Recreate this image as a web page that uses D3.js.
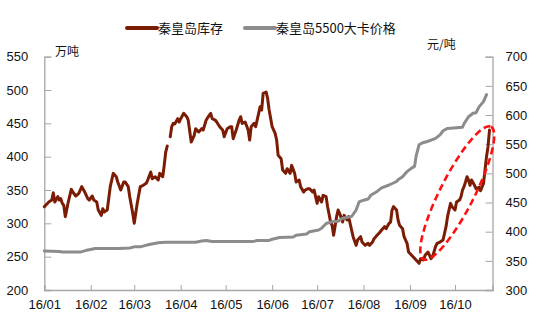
<!DOCTYPE html>
<html>
<head>
<meta charset="utf-8">
<script src="https://cdn.jsdelivr.net/npm/d3@7"></script>
<style>
  html, body { margin: 0; padding: 0; background: #fff; }
  svg { display: block; }
</style>
</head>
<body>
<svg id="chart" width="537" height="324"></svg>
<script>
// ---------------- DATA ----------------
const seriesNames = ["秦皇岛库存", "秦皇岛5500大卡价格"];
const leftUnit = "万吨";
const rightUnit = "元/吨";
const year = "2016";

const invDates = ["01-01","01-04","01-06","01-07","01-08","01-10","01-11","01-12","01-13","01-14","01-15","01-17","01-19","01-20","01-22","01-24","01-26","01-28","01-30","01-31",
"02-02","02-03","02-05","02-06","02-08","02-09","02-10","02-12","02-14","02-16","02-18","02-19","02-21","02-23","02-24","02-26","02-27","02-29",
"03-01","03-03","03-05","03-07","03-09","03-10","03-12","03-13","03-15","03-17","03-18","03-20","03-21","03-22","03-23","03-24","03-25","03-26","03-27","03-28","03-30","03-31",
"04-01","04-03","04-05","04-06","04-08","04-10","04-11","04-13","04-15","04-16","04-18","04-20","04-21","04-22","04-24","04-25","04-27","04-29","04-30",
"05-02","05-04","05-05","05-06","05-08","05-10","05-11","05-12","05-14","05-16","05-17","05-18","05-20","05-21","05-23","05-24","05-25","05-26","05-28","05-29","05-30",
"06-01","06-03","06-04","06-05","06-07","06-08","06-10","06-11","06-13","06-14","06-16","06-17","06-19","06-20","06-22","06-23","06-25","06-26","06-28","06-29",
"07-01","07-02","07-04","07-05","07-07","07-08","07-10","07-11","07-12","07-14","07-15","07-16","07-18","07-19","07-21","07-22","07-24","07-25","07-27","07-28","07-30","07-31",
"08-02","08-04","08-05","08-07","08-08","08-10","08-12","08-13","08-15","08-16","08-18","08-19","08-20","08-21","08-23","08-24","08-25","08-27","08-28","08-30","08-31",
"09-03","09-05","09-07","09-08","09-10","09-11","09-13","09-15","09-16","09-18","09-19","09-21","09-23","09-25","09-26","09-28","09-29",
"10-01","10-02","10-04","10-05","10-06","10-07","10-08","10-09","10-10","10-11","10-12","10-14","10-15","10-17","10-18","10-20","10-22","10-23","10-24"];
const invValues = [325,332,335,346,332,340,335,337,330,327,310,332,351,347,341,345,355,347,337,335,
341,335,332,320,312,322,317,320,355,375,370,362,350,362,362,355,340,315,
300,330,355,357,360,365,377,367,370,365,375,370,387,407,416,null,430,445,450,449,457,452,
457,465,460,455,422,432,442,437,442,440,455,462,465,457,455,452,445,440,430,
442,445,445,427,440,455,460,450,452,440,425,445,450,445,465,475,470,495,497,487,470,
445,435,425,402,397,380,375,382,375,387,375,362,365,355,347,350,352,352,347,350,
330,340,332,342,340,325,302,297,282,310,320,315,302,312,305,310,290,280,267,275,280,272,
267,270,267,272,277,282,287,290,295,292,300,302,320,325,320,305,297,292,280,270,257,
250,245,240,247,245,252,257,247,250,265,270,272,275,295,310,330,325,
320,332,335,340,350,355,362,370,365,357,365,357,352,354,349,360,400,415,440];

const priceDates = ["01-01","01-11","01-13","01-25","01-29","01-31","02-04","02-20","02-27","03-01","03-05","03-08","03-11","03-17","03-22",
"04-11","04-15","04-18","04-22","05-19","05-22","05-30","06-01","06-06","06-15","06-17","06-24","06-26",
"07-02","07-04","07-07","07-11","07-15","07-18","07-24","07-27","07-29","08-01","08-04","08-06","08-10","08-13","08-18","08-23","08-24","08-27","08-30",
"09-02","09-04","09-05","09-07","09-09","09-13","09-15","09-18","09-21","09-23","09-26","10-06","10-07","10-10","10-13","10-15","10-17","10-20","10-22"];
const priceValues = [367,366,365,365,368,369,371,371,372,374,374,376,378,381,382,
382,384,385,383,383,385,385,387,390,391,394,396,400,
403,406,414,417,418,423,426,437,451,454,456,463,469,475,480,486,489,494,503,
509,512,529,549,552,555,557,560,566,573,577,579,585,597,603,604,614,623,635];

const xDomain = ["01-01", "10-26"];
const xTickDates = ["01-01","02-01","03-01","04-01","05-01","06-01","07-01","08-01","09-01","10-01"];
const xTickLabels = ["16/01","16/02","16/03","16/04","16/05","16/06","16/07","16/08","16/09","16/10"];
const leftTicks = [200,250,300,350,400,450,500,550];
const rightTicks = [300,350,400,450,500,550,600,650,700];
// highlight ellipse: ends of its long axis, in data units (inventory axis)
const ellipseEnds = [["09-10", 246], ["10-25", 445]];

// ---------------- STYLE ----------------
const M = { left: 44.3, right: 492.5, top: 56.7, bottom: 290 };
const invColor = "#7b1c04";
const priceColor = "#8c8c8c";
const axisColor = "#a6a6a6";
const textColor = "#111";
const numFont = "'Liberation Sans', Arial, sans-serif";
const cjkFont = "'Noto Sans CJK SC', sans-serif";

const parse = d3.timeParse("%Y-%m-%d");
const toDate = s => parse(year + "-" + s);

const svg = d3.select("#chart");

const x = d3.scaleTime().domain(xDomain.map(toDate)).range([M.left, M.right]);
const yL = d3.scaleLinear().domain([200, 550]).range([M.bottom, M.top]);
const yR = d3.scaleLinear().domain([300, 700]).range([M.bottom, M.top]);

// ---------------- AXES ----------------
const gLeft = svg.append("g").attr("transform", `translate(${M.left},0)`)
  .call(d3.axisLeft(yL).tickValues(leftTicks).tickSize(-7).tickPadding(16).tickFormat(d3.format("d")));
const gRight = svg.append("g").attr("transform", `translate(${M.right},0)`)
  .call(d3.axisRight(yR).tickValues(rightTicks).tickSize(-7).tickPadding(13).tickFormat(d3.format("d")));
const gBottom = svg.append("g").attr("transform", `translate(0,${M.bottom})`)
  .call(d3.axisBottom(x).tickValues(xTickDates.map(toDate)).tickSize(-5).tickPadding(10)
    .tickFormat((d, i) => xTickLabels[i]));

[gLeft, gRight, gBottom].forEach(g => {
  g.select(".domain").attr("stroke", axisColor).attr("stroke-width", 1.3);
  g.selectAll(".tick line").attr("stroke", axisColor).attr("stroke-width", 1);
  g.selectAll(".tick text").attr("fill", textColor).style("font-family", numFont).style("font-size", "13px");
});
gLeft.selectAll(".tick text").attr("x", -16);
gBottom.selectAll(".tick text").attr("dy", "0.71em");

// ---------------- LINES ----------------
const invData = invDates.map((d, i) => ({ date: toDate(d), v: invValues[i] }));
const priceData = priceDates.map((d, i) => ({ date: toDate(d), v: priceValues[i] }));

svg.append("path").datum(invData)
  .attr("fill", "none").attr("stroke", invColor).attr("stroke-width", 3)
  .attr("stroke-linejoin", "round").attr("stroke-linecap", "round")
  .attr("d", d3.line().defined(d => d.v != null).x(d => x(d.date)).y(d => yL(d.v)));

svg.append("path").datum(priceData)
  .attr("fill", "none").attr("stroke", priceColor).attr("stroke-width", 3)
  .attr("stroke-linejoin", "round").attr("stroke-linecap", "round")
  .attr("d", d3.line().x(d => x(d.date)).y(d => yR(d.v)));

// ---------------- ELLIPSE ----------------
const p1 = [x(toDate(ellipseEnds[0][0])), yL(ellipseEnds[0][1])];
const p2 = [x(toDate(ellipseEnds[1][0])), yL(ellipseEnds[1][1])];
const cx = (p1[0] + p2[0]) / 2, cy = (p1[1] + p2[1]) / 2;
const rx = Math.hypot(p2[0] - p1[0], p2[1] - p1[1]) / 2;
const ang = Math.atan2(p2[1] - p1[1], p2[0] - p1[0]) * 180 / Math.PI;
svg.append("ellipse")
  .attr("cx", 0).attr("cy", 0).attr("rx", rx).attr("ry", 17)
  .attr("transform", `translate(${cx},${cy}) rotate(${ang})`)
  .attr("fill", "none").attr("stroke", "#ff1010").attr("stroke-width", 2.6)
  .attr("stroke-dasharray", "7,4");

// ---------------- UNITS ----------------
svg.append("text").attr("x", 55).attr("y", 56).text(leftUnit)
  .attr("fill", textColor).style("font-family", cjkFont).style("font-size", "12px");
svg.append("text").attr("x", 427).attr("y", 49).text(rightUnit)
  .attr("fill", textColor).style("font-family", cjkFont).style("font-size", "12px");

// ---------------- LEGEND ----------------
const legend = [
  { name: seriesNames[0], color: invColor, x0: 127 },
  { name: seriesNames[1], color: priceColor, x0: 245 }
];
const lg = svg.append("g");
legend.forEach(l => {
  lg.append("line").attr("x1", l.x0).attr("x2", l.x0 + 30).attr("y1", 28).attr("y2", 28)
    .attr("stroke", l.color).attr("stroke-width", 4).attr("stroke-linecap", "round");
  lg.append("text").attr("x", l.x0 + 31).attr("y", 33).text(l.name)
    .attr("fill", textColor).style("font-family", cjkFont).style("font-size", "13px");
});
</script>
</body>
</html>
